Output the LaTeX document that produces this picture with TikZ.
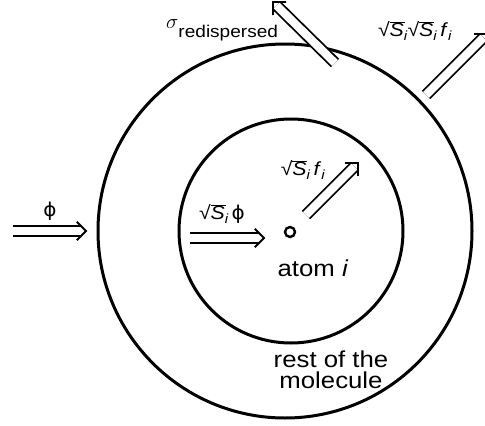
\documentclass[tikz,border=0pt]{standalone}
\usepackage{fontspec}
\setmainfont{Liberation Sans}[FakeStretch=1.12]
\newfontfamily\phifont{DejaVu Sans}[FakeStretch=1.05]
\usetikzlibrary{calc}
\newcommand\ovl[1]{\setbox0\hbox{#1}\rlap{\raisebox{\dimexpr\fontcharht\font"221A-0.08em\relax}{\rule{\dimexpr\wd0+0.04em\relax}{0.08em}}}\box0}
\newcommand\rS{√\kern-0.2pt\ovl{\itshape S\/}\textsubscript{\itshape i}}
\newcommand\ffi{\textit{f}\textsubscript{\itshape i}}
\newcommand\phis{{\phifont ϕ}}
\newcommand\dblarrow[2]{%
  \draw[dbl] (#1) -- ($(#2)!5pt!(#1)$);
  \draw[chev] ($(#2)!13pt!45:(#1)$) -- (#2) -- ($(#2)!13pt!-45:(#1)$);}
\begin{document}
\begin{tikzpicture}[x=1pt,y=-1pt,
  ring/.style={draw, circle, line width=3pt, inner sep=0pt},
  dbl/.style={double, double distance=8.2pt, line width=1.8pt},
  chev/.style={line width=1.8pt, line join=miter},
  lab/.style={inner sep=0pt, font=\fontsize{19}{19}\selectfont},
  big/.style={inner sep=0pt, font=\fontsize{23}{21}\selectfont, align=center}]
\useasboundingbox (0,0) rectangle (485,426);
\node[ring, minimum size=374pt] (outer) at (285,231) {};
\node[ring, minimum size=224pt] (inner) at (291,231) {};
\node[ring, line width=2.4pt, minimum size=10pt] (atom) at (290,232) {};
\coordinate (l0) at (13,231);  \coordinate (l1) at (86,231);
\coordinate (m0) at (190,238); \coordinate (m1) at (264,238);
\coordinate (d0) at (306,215); \coordinate (d1) at (358,163);
\coordinate (s0) at (335,63);  \coordinate (s1) at (273,2);
\coordinate (t0) at (426,95);  \coordinate (t1) at (487,34);
\dblarrow{l0}{l1}
\dblarrow{m0}{m1}
\dblarrow{d0}{d1}
\dblarrow{s0}{s1}
\dblarrow{t0}{t1}
\node[lab] (phiL) at (50,211) {\phis};
\node[lab] (lm) at (222,214) {\rS\,\phis};
\node[lab] (ld) at (303,170) {\rS\,\ffi};
\node[lab] (lt) at (415,31) {\rS\rS\,\ffi};
\node[inner sep=0pt, anchor=base west] (sig) at (166,28) {\fontsize{22}{22}\selectfont$\sigma$\raisebox{-9pt}{\fontsize{17}{17}\selectfont redispersed}};
\node[big, anchor=base] (atomlab) at (313,276) {atom \textit{i}};
\node[big, anchor=base] (rest) at (331,388) {rest of the\\molecule};
\end{tikzpicture}
\end{document}
